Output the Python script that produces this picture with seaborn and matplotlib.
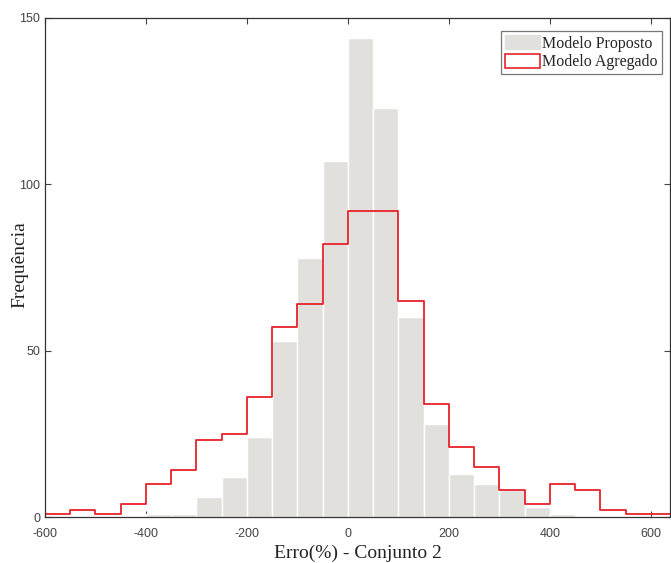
import numpy as np
import pandas as pd
import matplotlib
matplotlib.use("Agg")
import matplotlib.pyplot as plt
import seaborn as sns
from matplotlib.patches import Patch

# Bin edges (width 50) from -600 to 650
bin_edges = list(range(-600, 651, 50))
bin_centers = [e + 25 for e in bin_edges[:-1]]

# Counts per bin
proposto = [0, 0, 0, 0, 1, 1, 6, 12, 24, 53, 78, 107, 144, 123, 60, 28, 13, 10, 8, 3, 1, 0, 0, 0, 0]
agregado = [1, 2, 1, 4, 10, 14, 23, 25, 36, 57, 64, 82, 92, 92, 65, 34, 21, 15, 8, 4, 10, 8, 2, 1, 1]

x_ticks = [-600, -400, -200, 0, 200, 400, 600]
y_ticks = [0, 50, 100, 150]

df = pd.DataFrame({"centro": bin_centers, "proposto": proposto, "agregado": agregado})

sns.set_style("white")
plt.rcParams["font.family"] = ["Liberation Sans", "DejaVu Sans"]

fig = plt.figure(figsize=(6.71, 5.63), dpi=100)
ax = fig.add_axes([45 / 671, 1 - 517 / 563, (670 - 45) / 671, (517 - 18) / 563])

sns.histplot(data=df, x="centro", weights="proposto", bins=bin_edges, ax=ax,
             color="#e1e0dc", edgecolor="white", linewidth=1.0, alpha=1.0,
             label="Modelo Proposto")
sns.histplot(data=df, x="centro", weights="agregado", bins=bin_edges, ax=ax,
             element="step", fill=False, color="#e8222b", linewidth=1.3,
             label="Modelo Agregado")

ax.set_xlim(-600, 638)
ax.set_ylim(0, 150)
ax.set_xticks(x_ticks)
ax.set_yticks(y_ticks)
ax.set_xticklabels([str(t) for t in x_ticks])
ax.set_yticklabels([str(t) for t in y_ticks])

ax.tick_params(direction="in", length=4, width=0.8, colors="#444444",
               labelcolor="#444444", labelsize=9, top=True, right=True,
               bottom=True, left=True)
ax.tick_params(axis="x", pad=8)
for s in ax.spines.values():
    s.set_visible(True)
    s.set_color("#333333")
    s.set_linewidth(0.9)

serif = ["Liberation Serif", "DejaVu Serif"]
ax.set_xlabel("Erro(%) - Conjunto 2", family=serif, fontsize=14, color="#222222")
ax.set_ylabel("Frequência", family=serif, fontsize=14, color="#222222")
ax.xaxis.set_label_coords(0.5, -0.055)
ax.yaxis.set_label_coords(-0.027, 0.505)

handles = [Patch(facecolor="#e1e0dc", edgecolor="#e1e0dc", label="Modelo Proposto"),
           Patch(facecolor="white", edgecolor="#e8222b", linewidth=1.2, label="Modelo Agregado")]
leg = ax.legend(handles=handles, loc="upper right", bbox_to_anchor=(0.987, 0.974),
                prop={"family": serif, "size": 11.5}, frameon=True, fancybox=False,
                edgecolor="#555555", borderpad=0.25, handlelength=2.2, handleheight=1.0,
                handletextpad=0.15, labelspacing=0.12, borderaxespad=0)
leg.get_frame().set_linewidth(0.9)

fig.savefig("out.png", dpi=100)
